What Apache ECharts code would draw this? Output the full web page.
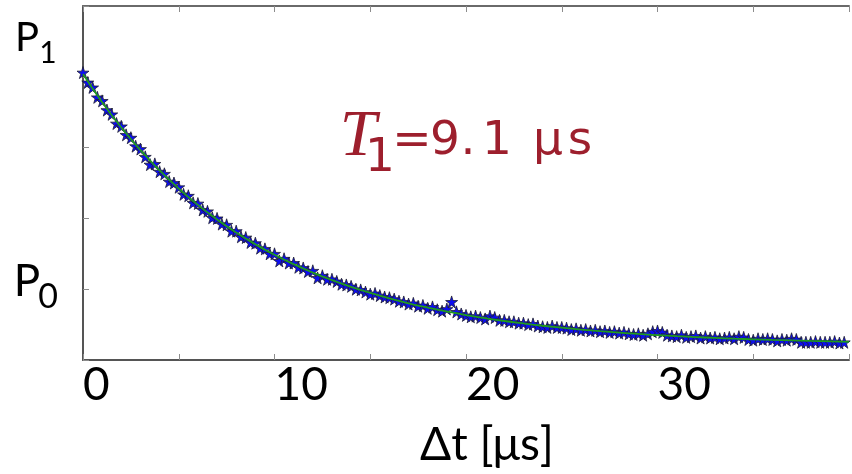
<!DOCTYPE html>
<html>
<head>
<meta charset="utf-8">
<script src="https://cdn.jsdelivr.net/npm/echarts@6/dist/echarts.min.js"></script>
<style>
  html, body { margin: 0; padding: 0; background: #fff; }
  #chart { width: 852px; height: 474px; }
</style>
</head>
<body>
<div id="chart"></div>
<script>
// Energy relaxation of the qubit: excited-state population vs. delay Δt
const timeStep = 0.25; // μs between successive measurements

// Measured population (arbitrary units between P0 and P1 scale)
const measured = [
  4.06, 3.92, 3.85, 3.71,  3.66, 3.53, 3.47, 3.34,  3.30, 3.18, 3.14, 3.02,
  2.98, 2.87, 2.76, 2.77,  2.66, 2.63, 2.52, 2.50,  2.44, 2.34, 2.32, 2.22,
  2.21, 2.12, 2.10, 2.01,  2.00, 1.92, 1.91, 1.82,  1.82, 1.74, 1.73, 1.66,
  1.65, 1.58, 1.57, 1.50,  1.50, 1.40, 1.43, 1.37,  1.37, 1.31, 1.30, 1.25,
  1.26, 1.16, 1.19, 1.14,  1.14, 1.11, 1.07, 1.06,  1.04, 1.00, 0.99, 0.96,
  0.93, 0.94, 0.91, 0.89,  0.88, 0.86, 0.83, 0.82,  0.79, 0.80, 0.76, 0.77,
  0.73, 0.75, 0.71, 0.69,  0.72, 0.82, 0.68, 0.65,  0.63, 0.61, 0.62, 0.60,
  0.58, 0.62, 0.60, 0.56,  0.56, 0.54, 0.54, 0.52,  0.52, 0.50, 0.51, 0.48,
  0.47, 0.46, 0.48, 0.46,  0.46, 0.45, 0.43, 0.44,  0.42, 0.43, 0.41, 0.42,
  0.40, 0.41, 0.39, 0.40,  0.38, 0.39, 0.37, 0.36,  0.37, 0.35, 0.37, 0.40,
  0.41, 0.39, 0.35, 0.34,  0.33, 0.35, 0.32, 0.33,  0.34, 0.31, 0.33, 0.31,
  0.32, 0.30, 0.31, 0.32,  0.30, 0.33, 0.32, 0.29,  0.28, 0.30, 0.29, 0.30,
  0.29, 0.27, 0.29, 0.28,  0.30, 0.29, 0.25, 0.25,  0.25, 0.26, 0.25, 0.25,
  0.25, 0.26, 0.24, 0.25
];

// Exponential fit, sampled every microsecond
const fitTimes = [
  0, 1, 2, 3, 4, 5, 6, 7, 8, 9, 10, 11, 12, 13, 14, 15, 16, 17, 18, 19, 20,
  21, 22, 23, 24, 25, 26, 27, 28, 29, 30, 31, 32, 33, 34, 35, 36, 37, 38, 39, 40
];
const fitValues = [
  4.040, 3.641, 3.284, 2.964, 2.678, 2.421, 2.191, 1.985, 1.800, 1.635, 1.486,
  1.354, 1.235, 1.128, 1.032, 0.947, 0.870, 0.801, 0.740, 0.685, 0.635,
  0.591, 0.551, 0.516, 0.484, 0.456, 0.430, 0.407, 0.387, 0.368, 0.352,
  0.337, 0.324, 0.312, 0.301, 0.292, 0.283, 0.276, 0.269, 0.263, 0.257
];

const xTickLabels = ['0', '10', '20', '30'];
const xAxisTitle = 'Δt [μs]';

// Population levels marked on the vertical axis
const levelSubscripts = ['1', '0'];
const levelValues = [4.45, 1.0];

// Fitted relaxation time, written as T1=9.1 μs
const t1Symbol = 'T';
const t1Subscript = '1';
const t1Text = '=9.1 μs';

const sans = 'Lato, "Open Sans", "Noto Sans", sans-serif';
const wideSans = '"DejaVu Sans", "Open Sans", sans-serif';
const serif = '"Liberation Serif", "DejaVu Serif", serif';
const annotRed = '#9d1f2d';
const axisGray = '#555555';
const tickGray = '#8c8c8c';
const starPath = 'path://M50,0 L61,35 L98,35 L68,57 L79,91 L50,70 L21,91 L32,57 L2,35 L39,35 Z';

const points = measured.map((v, i) => [i * timeStep, v]);
const fitLine = fitValues.map((v, i) => [fitTimes[i], v]);

const chart = echarts.init(document.getElementById('chart'), null, { renderer: 'canvas' });

chart.setOption({
  animation: false,
  backgroundColor: '#fff',
  grid: { left: 83, top: 6, right: -5, bottom: 114, containLabel: false },
  xAxis: [
    {
      type: 'value', min: 0, max: 40, interval: 5, position: 'bottom',
      axisLine: { show: true, onZero: false, lineStyle: { color: axisGray, width: 2 } },
      axisTick: { show: true, inside: true, length: 6, lineStyle: { color: tickGray, width: 1 } },
      splitLine: { show: false },
      axisLabel: {
        formatter: v => (xTickLabels.includes(String(v)) ? String(v) : ''),
        align: 'left', margin: 2, color: '#000', fontFamily: sans, fontSize: 46
      },
      name: xAxisTitle, nameLocation: 'middle', nameGap: 62,
      nameTextStyle: { fontFamily: sans, fontSize: 46, color: '#000', padding: [0, 0, 0, 42] }
    },
    {
      type: 'value', min: 0, max: 40, interval: 5, position: 'top',
      axisLine: { show: true, onZero: false, lineStyle: { color: '#6a6a6a', width: 2 } },
      axisTick: { show: true, inside: true, length: 6, lineStyle: { color: tickGray, width: 1 } },
      axisLabel: { show: false },
      splitLine: { show: false }
    }
  ],
  yAxis: [
    {
      type: 'value', min: 0, max: 5, interval: 1,
      axisLine: { show: true, onZero: false, lineStyle: { color: axisGray, width: 2 } },
      axisTick: { show: true, inside: true, length: 6, lineStyle: { color: tickGray, width: 1 } },
      axisLabel: { show: false },
      splitLine: { show: false }
    }
  ],
  series: [
    {
      type: 'scatter', data: points, symbol: starPath, symbolSize: 12,
      itemStyle: { color: '#0d0df2', borderColor: '#202030', borderWidth: 0.8, opacity: 1 },
      z: 2
    },
    {
      type: 'line', data: fitLine, smooth: true, showSymbol: false,
      lineStyle: { color: '#1f9a1f', width: 1.8 },
      z: 3
    }
  ]
});

// Level labels P1 / P0 placed at their axis values
const levelSizes = [[40, 30], [44, 34]];
const graphics = [];
levelValues.forEach((val, i) => {
  const cy = chart.convertToPixel({ yAxisIndex: 0 }, val);
  const [pSize, sSize] = levelSizes[i];
  graphics.push({
    type: 'text', x: 27, y: cy - 7, silent: true,
    style: { text: 'P', fontFamily: sans, fontSize: pSize, fill: '#000', align: 'center', verticalAlign: 'middle' }
  });
  graphics.push({
    type: 'text', x: 48, y: cy + 8, silent: true,
    style: { text: levelSubscripts[i], fontFamily: sans, fontSize: sSize, fill: '#000', align: 'center', verticalAlign: 'middle' }
  });
});

// T1 annotation: italic symbol, lowered subscript, then the value with loose spacing
graphics.push({
  type: 'text', x: 358, y: 138, silent: true,
  style: { text: t1Symbol, fontFamily: serif, fontStyle: 'italic', fontSize: 66, fill: annotRed, align: 'center', verticalAlign: 'middle' }
});
graphics.push({
  type: 'text', x: 380, y: 159, silent: true,
  style: { text: t1Subscript, fontFamily: wideSans, fontSize: 47, fill: annotRed, align: 'center', verticalAlign: 'middle' }
});
const charCenters = [412, 445, 468, 497, null, 548, 580];
Array.from(t1Text).forEach((ch, i) => {
  if (charCenters[i] === null) return;
  graphics.push({
    type: 'text', x: charCenters[i], y: 142, silent: true,
    style: { text: ch, fontFamily: wideSans, fontSize: 47, fill: annotRed, align: 'center', verticalAlign: 'middle' }
  });
});

chart.setOption({ graphic: graphics });
</script>
</body>
</html>
